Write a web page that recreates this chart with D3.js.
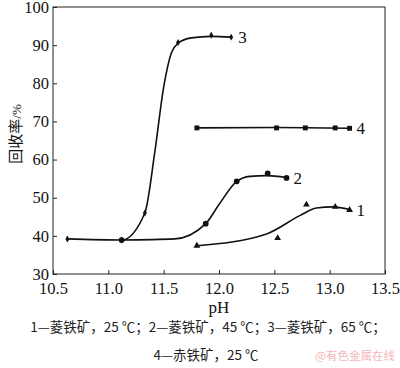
<!DOCTYPE html>
<html>
<head>
<meta charset="utf-8">
<script src="https://cdn.jsdelivr.net/npm/d3@7"></script>
<style>
  html, body { margin: 0; padding: 0; background: #fff; }
  svg { display: block; }
</style>
</head>
<body>
<div id="chart"></div>
<script>
"use strict";

/* ── Data ── */
const xTicks = [10.5, 11.0, 11.5, 12.0, 12.5, 13.0, 13.5];
const yTicks = [30, 40, 50, 60, 70, 80, 90, 100];

// measured points
const pts1 = [[11.80, 37.4], [12.53, 39.4], [12.79, 48.2], [13.05, 47.6], [13.18, 46.8]];
const pts2 = [[11.12, 38.9], [11.88, 43.2], [12.16, 54.3], [12.44, 56.4], [12.61, 55.2]];
const pts3 = [[10.63, 39.2], [11.12, 38.9], [11.33, 46.0], [11.63, 90.7], [11.93, 92.6], [12.11, 92.1]];
const pts4 = [[11.80, 68.3], [12.52, 68.3], [12.78, 68.3], [13.05, 68.3], [13.18, 68.2]];

// fitted curves as drawn in the figure
const fit1 = [[11.80, 37.4], [12.43, 40.5], [12.73, 45.3], [12.88, 47.3], [13.03, 47.6], [13.18, 46.9]];
const fit2 = [[11.12, 38.9], [11.60, 39.2], [11.88, 43.2], [12.00, 48.2], [12.16, 54.3], [12.28, 55.6], [12.43, 55.8], [12.61, 55.3]];
const fit3 = [[10.63, 39.2], [11.12, 38.9], [11.33, 46.0], [11.42, 62.0], [11.50, 79.0], [11.57, 88.0], [11.63, 90.5], [11.75, 91.9], [11.93, 92.3], [12.11, 92.1]];
const fit4 = [[11.80, 68.3], [12.50, 68.4], [13.18, 68.2]];

const seriesLabels = ["1", "2", "3", "4"];
const captionLines = [
  "1—菱铁矿，25 ℃；2—菱铁矿，45 ℃；3—菱铁矿，65 ℃；",
  "4—赤铁矿，25 ℃"
];

/* ── Dimensions ── */
const W = 400, H = 368;
const margin = { top: 7, right: 15, bottom: 94, left: 53 };
const width  = W - margin.left - margin.right;
const height = H - margin.top - margin.bottom;

const serif = "Liberation Serif, DejaVu Serif, serif";
const cjk   = "Noto Sans CJK SC, sans-serif";

const svg = d3.select("#chart").append("svg")
  .attr("width", W).attr("height", H);

const g = svg.append("g")
  .attr("transform", `translate(${margin.left},${margin.top})`);

/* ── Scales ── */
const x = d3.scaleLinear().domain([10.5, 13.5]).range([0, width]);
const y = d3.scaleLinear().domain([30, 100]).range([height, 0]);

/* ── Frame ── */
g.append("rect")
  .attr("width", width).attr("height", height)
  .attr("fill", "none").attr("stroke", "#222").attr("stroke-width", 1);

/* ── Axes (ticks inside) ── */
g.append("g")
  .attr("transform", `translate(0,${height})`)
  .call(d3.axisBottom(x).tickValues(xTicks).tickSize(-4).tickPadding(8).tickFormat(d3.format(".1f")))
  .attr("font-family", serif)
  .attr("font-size", 16.5)
  .call(a => {
    a.select(".domain").remove();
    a.selectAll(".tick line").attr("stroke", "#222");
    a.selectAll(".tick text").attr("fill", "#111");
  });

g.append("g")
  .call(d3.axisLeft(y).tickValues(yTicks).tickSize(-4).tickPadding(4).tickFormat(d3.format("d")))
  .attr("font-family", serif)
  .attr("font-size", 16.5)
  .call(a => {
    a.select(".domain").remove();
    a.selectAll(".tick line").attr("stroke", "#222");
    a.selectAll(".tick text").attr("fill", "#111");
  });

/* ── Curves ── */
const line = d3.line()
  .x(d => x(d[0])).y(d => y(d[1]))
  .curve(d3.curveMonotoneX);

[fit1, fit2, fit3, fit4].forEach(f => {
  g.append("path")
    .attr("d", line(f))
    .attr("fill", "none")
    .attr("stroke", "#111")
    .attr("stroke-width", 1.6);
});

/* ── Markers ── */
const markerDefs = [
  { pts: pts1, sym: d3.symbolTriangle, size: 20 },
  { pts: pts2, sym: d3.symbolCircle,   size: 26 },
  { pts: pts3, sym: d3.symbolDiamond,  size: 14 },
  { pts: pts4, sym: d3.symbolSquare,   size: 24 }
];

markerDefs.forEach(m => {
  g.selectAll(null)
    .data(m.pts)
    .join("path")
    .attr("transform", d => `translate(${x(d[0])},${y(d[1])})`)
    .attr("d", d3.symbol().type(m.sym).size(m.size))
    .attr("fill", "#111");
});

/* ── Series labels ── */
markerDefs.forEach((m, i) => {
  const last = m.pts[m.pts.length - 1];
  g.append("text")
    .attr("x", x(last[0]) + 7)
    .attr("y", y(last[1]) + 6)
    .attr("font-family", serif)
    .attr("font-size", 17)
    .attr("fill", "#111")
    .text(seriesLabels[i]);
});

/* ── Axis titles ── */
svg.append("text")
  .attr("x", margin.left + width / 2)
  .attr("y", 313)
  .attr("text-anchor", "middle")
  .attr("font-family", serif)
  .attr("font-size", 17)
  .attr("fill", "#111")
  .text("pH");

const yt = svg.append("text")
  .attr("transform", `translate(21,134) rotate(-90)`)
  .attr("text-anchor", "middle")
  .attr("font-family", cjk)
  .attr("font-size", 15)
  .attr("fill", "#111");
yt.append("tspan").text("回收率");
yt.append("tspan").attr("font-family", serif).attr("font-size", 13).text("/%");

/* ── Caption ── */
svg.append("text")
  .attr("x", 208).attr("y", 332)
  .attr("text-anchor", "middle")
  .attr("font-family", cjk)
  .attr("font-size", 13.5)
  .attr("fill", "#222")
  .text(captionLines[0]);

svg.append("text")
  .attr("x", 206).attr("y", 360)
  .attr("text-anchor", "middle")
  .attr("font-family", cjk)
  .attr("font-size", 13.5)
  .attr("fill", "#222")
  .text(captionLines[1]);

/* ── Watermark ── */
svg.append("text")
  .attr("x", 395).attr("y", 360)
  .attr("text-anchor", "end")
  .attr("font-family", cjk)
  .attr("font-size", 11.5)
  .attr("fill", "#f2b8b8")
  .text("@有色金属在线");
</script>
</body>
</html>
